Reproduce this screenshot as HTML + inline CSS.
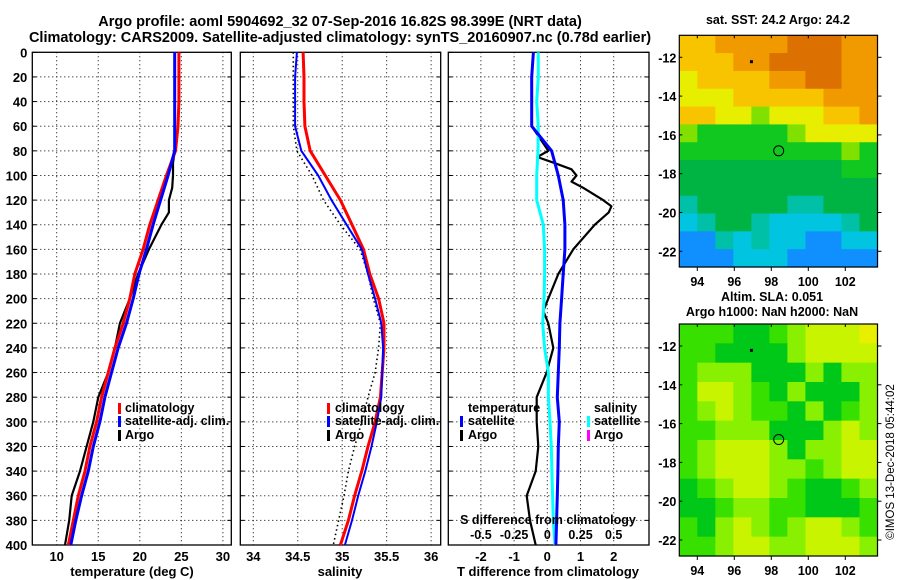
<!DOCTYPE html>
<html><head><meta charset="utf-8">
<style>
html,body{margin:0;padding:0;background:#fff;}
svg{display:block;font-family:"Liberation Sans",sans-serif;font-weight:bold;}
text{fill:#000;}
</style></head>
<body>
<svg id="chart" width="900" height="580" viewBox="0 0 900 580" xmlns="http://www.w3.org/2000/svg">
<text x="340" y="26" font-size="14.5" text-anchor="middle">Argo profile: aoml 5904692_32 07-Sep-2016 16.82S 98.399E (NRT data)</text>
<text x="340" y="42" font-size="14.5" text-anchor="middle">Climatology: CARS2009. Satellite-adjusted climatology: synTS_20160907.nc (0.78d earlier)</text>
<text x="778" y="24" font-size="12.5" text-anchor="middle">sat. SST: 24.2 Argo: 24.2</text>
<text x="772" y="301" font-size="12.5" text-anchor="middle">Altim. SLA: 0.051</text>
<text x="772" y="316" font-size="12.5" text-anchor="middle">Argo h1000: NaN h2000: NaN</text>
<text x="0" y="0" font-size="11.5" font-weight="normal" text-anchor="middle" transform="translate(894,462) rotate(-90)">©IMOS 13-Dec-2018 05:44:02</text>
<g id="g"></g>
</svg>
<script>
// ---- data ----
const depthStd = [0,20,40,60,80,100,120,140,160,180,200,220,240,260,280,300,320,340,360,380,400];
const depthTicks = [0,20,40,60,80,100,120,140,160,180,200,220,240,260,280,300,320,340,360,380,400];
const tempTicks = [10,15,20,25,30];
const salTicks = [34,34.5,35,35.5,36];
const tdiffTicks = [-2,-1,0,1,2];
const sdiffTicks = [-0.5,-0.25,0,0.25,0.5];
const sdiffTickLabels = ["-0.5","-0.25","0","0.25","0.5"];
const tempClim = [24.7,24.7,24.7,24.6,24.3,23.2,22.2,21.2,20.4,19.4,18.8,18.0,17.0,16.2,15.4,14.8,14.0,13.4,12.6,12.0,11.4];
const tempSat = [24.2,24.2,24.2,24.2,24.2,23.4,22.5,21.6,20.8,19.9,19.2,18.4,17.4,16.6,15.8,15.2,14.4,13.8,13.0,12.3,11.7];
const argoDepth = [0,20,40,60,80,90,100,110,120,130,140,160,180,200,220,240,260,280,300,320,340,360,380,400];
const tempArgo = [24.2,24.2,24.2,24.2,24.2,24.0,24.0,23.9,23.5,23.5,22.6,21.1,19.8,18.8,17.6,17.0,16.2,15.0,14.4,13.6,12.8,11.8,11.5,11.0];
const salClim = [34.56,34.57,34.57,34.58,34.64,34.81,34.98,35.11,35.24,35.31,35.41,35.47,35.47,35.45,35.43,35.37,35.29,35.22,35.14,35.07,34.98];
const salSat = [34.49,34.47,34.47,34.47,34.54,34.73,34.88,35.05,35.22,35.29,35.37,35.44,35.46,35.45,35.44,35.39,35.33,35.26,35.18,35.11,35.03];
const salArgo = [34.45,34.45,34.45,34.45,34.49,34.66,34.79,34.98,35.2,35.29,35.35,35.43,35.41,35.37,35.29,35.22,35.14,35.07,35.02,34.96,34.9];
const tdiffSat = [-0.42,-0.47,-0.47,-0.47,0.13,0.33,0.48,0.53,0.53,0.48,0.43,0.38,0.36,0.33,0.3,0.36,0.33,0.32,0.3,0.28,0.26];
const sdiffSat = [-0.068,-0.068,-0.08,-0.068,-0.07,-0.08,-0.08,-0.03,-0.02,-0.02,-0.024,-0.035,-0.02,0.008,0.008,0.02,0.03,0.035,0.04,0.045,0.058];
const diffArgoDepth = [0,20,40,60,70,80,85,90,95,100,105,110,120,125,130,140,160,180,200,210,220,240,260,280,300,320,340,360,380,400];
const tdiffArgo = [-0.42,-0.47,-0.47,-0.47,-0.22,0.03,-0.3,0.23,0.73,0.88,0.73,1.08,1.68,1.93,1.85,1.43,0.78,0.33,0.03,-0.12,0.03,0.18,-0.02,-0.32,-0.32,-0.27,-0.35,-0.62,-0.52,-0.35];
const lonTicks = [94,96,98,100,102];
const latTicks = [-12,-14,-16,-18,-20,-22];
const argoLon = 98.399, argoLat = -16.82;
const sstGrid = [
"yyooooOOOoo","yyyooOOOOoo","YyyyyooOOoo","YYYyyyyyooo","yyYYgYYYyyo","gGGGGGgYYYY",
"GGGGGGGGGgG","DDDDDDDDDGG","DDDDDDDDDDD","cDDDDDccDDD","CcDDcCCCCcD","BBcCcCCBBCC","BBBCCCBBBBB"];
const slaGrid = [
"gggGGglYYYy","ggGGGGlYYYY","glllGGGlGll","gYYlgGlGGGl","glYlggGlGgl","gglllGGGlYl",
"glYYYlGllYY","glYYYllglYY","GglYYlgGGgl","GGgllggGGGg","gGlYlglYYlg","gglYYllYYYl"];
const sstColors = {O:"#dc7000",o:"#f09a00",y:"#f8c400",Y:"#e8ee00",g:"#80e000",G:"#10c820",D:"#00b444",c:"#00c0a8",C:"#00c4e0",B:"#1090ff",N:"#0000ff"};
const slaColors = {G:"#00c818",g:"#38e000",l:"#88f000",Y:"#c8f400",y:"#e8f000"};

// ---- layout ----
const NS="http://www.w3.org/2000/svg";
const G=document.getElementById('g');
function el(tag,attrs,parent){const e=document.createElementNS(NS,tag);for(const k in attrs)e.setAttribute(k,attrs[k]);(parent||G).appendChild(e);return e;}
const top0=52.3, bot0=545;
const yD = d => top0 + d*(bot0-top0)/400;
const xT = t => 56.7 + (t-10)*8.31;
const xS = s => 253.3 + (s-34)*88.9;
const xTd = t => 547.3 + t*33.2;
const xSd = s => 547.3 + s*132.8;

function panel(name,x0,x1,xticks,xfn,labels,showY){
  const gp=el('g',{});
  
  
  depthTicks.forEach(d=>{ if(d>0&&d<400){const l=el('line',{x1:x0,x2:x1,y1:yD(d),y2:yD(d),stroke:'#000','stroke-width':1,'stroke-dasharray':'1,3'},gp); }
    el('line',{x1:x0,x2:x0+4,y1:yD(d),y2:yD(d),stroke:'#000'},gp);el('line',{x1:x1-4,x2:x1,y1:yD(d),y2:yD(d),stroke:'#000'},gp);
    if(showY){const t=el('text',{x:x0-5,y:yD(d)+5,'font-size':13,'text-anchor':'end'},gp);t.textContent=d;}
  });
  xticks.forEach((v,i)=>{const x=xfn(v);
    const l=el('line',{x1:x,x2:x,y1:top0,y2:bot0,stroke:'#000','stroke-dasharray':'1,3'},gp);
    
    if(labels){const t=el('text',{x:x,y:561,'font-size':13,'text-anchor':'middle'},gp);t.textContent=labels[i];}
  });
  const r=el('rect',{x:x0,y:top0,width:x1-x0,height:bot0-top0,fill:'none',stroke:'#000','stroke-width':1.3},gp);
  
  return gp;
}
function line(gp,name,xs,ds,xfn,color,w,dash){
  const pts=xs.map((v,i)=>xfn(v).toFixed(1)+','+yD(ds[i]).toFixed(1)).join(' ');
  const p=el('polyline',{points:pts,fill:'none',stroke:color,'stroke-width':w,'stroke-linejoin':'round'},gp);
  if(dash)p.setAttribute('stroke-dasharray',dash);
  
  
}
function txt(gp,name,x,y,s,size,anchor,fill){const t=el('text',{x:x,y:y,'font-size':size||13,'text-anchor':anchor||'start'},gp);t.textContent=s;if(fill)t.setAttribute('fill',fill);return t;}
function legMark(gp,x,y,color){const r=el('rect',{x:x,y:y-10,width:3,height:11,fill:color},gp);}

// Panel 1 temperature
const p1=panel('temperature-panel',32.3,231.3,tempTicks,xT,tempTicks.map(String),true);
line(p1,'temp-argo-line',tempArgo,argoDepth,xT,'#000',2.2);
line(p1,'temp-climatology-line',tempClim,depthStd,xT,'#ff0000',3);
line(p1,'temp-satellite-line',tempSat,depthStd,xT,'#0000ff',3);
txt(p1,'temp-x-axis-title',132,576,'temperature (deg C)',13,'middle');
legMark(p1,118,413,'#ff0000');txt(p1,'legend-climatology',125,412,'climatology',12.5);
legMark(p1,118,426,'#0000ff');txt(p1,'legend-satellite',125,425,'satellite-adj. clim.',12.5);
legMark(p1,118,440,'#000');txt(p1,'legend-argo',125,439,'Argo',12.5);

// Panel 2 salinity
const p2=panel('salinity-panel',240.3,440.7,salTicks,xS,salTicks.map(String),false);
line(p2,'sal-argo-line',salArgo,depthStd,xS,'#000',1.6,'1.5,3');
line(p2,'sal-climatology-line',salClim,depthStd,xS,'#ff0000',3);
line(p2,'sal-satellite-line',salSat,depthStd,xS,'#0000ff',2);
txt(p2,'salinity-x-axis-title',340,576,'salinity',13,'middle');
legMark(p2,327,413,'#ff0000');txt(p2,'legend-climatology',335,412,'climatology',12.5);
legMark(p2,327,426,'#0000ff');txt(p2,'legend-satellite',335,425,'satellite-adj. clim.',12.5);
legMark(p2,327,440,'#000');txt(p2,'legend-argo',335,439,'Argo',12.5);

// Panel 3 differences
const p3=panel('difference-panel',448.3,649,tdiffTicks,xTd,tdiffTicks.map(String),false);
line(p3,'tdiff-argo-line',tdiffArgo,diffArgoDepth,xTd,'#000',2.2);
line(p3,'sdiff-satellite-line',sdiffSat,depthStd,xSd,'#00ffff',3);
line(p3,'tdiff-satellite-line',tdiffSat,depthStd,xTd,'#0000ff',3);
txt(p3,'tdiff-x-axis-title',548,576,'T difference from climatology',13,'middle');
txt(p3,'sdiff-axis-title',548,524,'S difference from climatology',12.5,'middle');
sdiffTicks.forEach((v,i)=>txt(p3,'sdiff-tick-label',xSd(v),539,sdiffTickLabels[i],12.5,'middle'));
txt(p3,'legend-temperature-header',468,412,'temperature',12.5);
legMark(p3,460,426,'#0000ff');txt(p3,'legend-t-satellite',468,425,'satellite',12.5);
legMark(p3,460,440,'#000');txt(p3,'legend-t-argo',468,439,'Argo',12.5);
txt(p3,'legend-salinity-header',594,412,'salinity',12.5);
legMark(p3,587,426,'#00ffff');txt(p3,'legend-s-satellite',594,425,'satellite',12.5);
legMark(p3,587,440,'#ff00ff');txt(p3,'legend-s-argo',594,439,'Argo',12.5);

// Maps
const mx0=679.3, mx1=877.5;
const lonX = lon => 808.3 + (lon-100)*18.5;
function map(name,y0,y1,grid,colors,latY){
  const gm=el('g',{});
  
  
  const rows=grid.length, cols=grid[0].length;
  const cw=(mx1-mx0)/cols, ch=(y1-y0)/rows;
  grid.forEach((row,r)=>{[...row].forEach((c,k)=>{
    const cell=el('rect',{x:(mx0+k*cw).toFixed(2),y:(y0+r*ch).toFixed(2),width:(cw+0.6).toFixed(2),height:(ch+0.6).toFixed(2),fill:colors[c]},gm);
    
    
  });});
  const fr=el('rect',{x:mx0,y:y0,width:mx1-mx0,height:y1-y0,fill:'none',stroke:'#000','stroke-width':1.2},gm);
  
  latTicks.forEach(l=>{const y=latY(l);el('line',{x1:mx1,x2:mx1+4,y1:y,y2:y,stroke:'#000'},gm);el('line',{x1:mx0,x2:mx0+3,y1:y,y2:y,stroke:'#000'},gm);
    txt(gm,'lat-tick-label',mx0-3,y+5,String(l),12.5,'end');});
  lonTicks.forEach(l=>{const x=lonX(l);el('line',{x1:x,x2:x,y1:y1,y2:y1+4,stroke:'#000'},gm);el('line',{x1:x,x2:x,y1:y0,y2:y0+3,stroke:'#000'},gm);
    txt(gm,'lon-tick-label',x,y1+19,String(l),12.5,'middle');});
  const c=el('circle',{cx:lonX(argoLon),cy:latY(argoLat),r:5,fill:'none',stroke:'#000','stroke-width':1},gm);
  
  const d=el('rect',{x:lonX(96.9)-1,y:latY(-12.2)-1,width:3,height:3,fill:'#000'},gm);
  
}
map('sst-map',35.3,267,sstGrid,sstColors,l=>57.3+(-12-l)*19.4);
map('sla-map',324,556,slaGrid,slaColors,l=>346+(-12-l)*19.4);
</script>
</body></html>
